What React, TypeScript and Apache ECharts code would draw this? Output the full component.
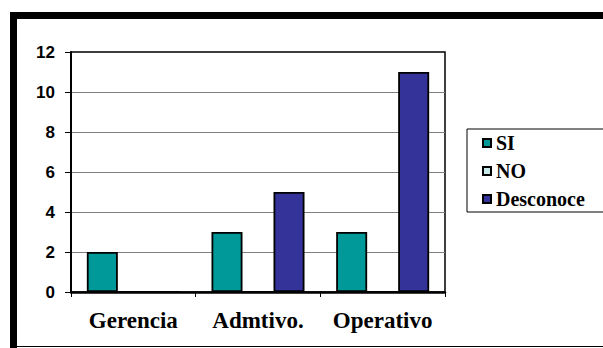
import React, { useEffect, useRef } from "react";
import * as echarts from "echarts";

const categories = ["Gerencia", "Admtivo.", "Operativo"];
const seriesNames = ["SI", "NO", "Desconoce"];
const siValues = [2, 3, 3];
const noValues = [0, 0, 0];
const desconoceValues = [0, 5, 11];
const seriesColors = ["#009999", "#C6E8E8", "#333399"];
const yMin = 0;
const yMax = 12;
const yInterval = 2;

const SERIF = "Liberation Serif";
const SANS = "Liberation Sans";

export default function App() {
  const ref = useRef<HTMLDivElement>(null);
  useEffect(() => {
    if (!ref.current) return;
    const chart = echarts.init(ref.current, null, { renderer: "svg" });
    const values = [siValues, noValues, desconoceValues];
    chart.setOption({
      animation: false,
      backgroundColor: "#ffffff",
      grid: {
        left: 71,
        top: 52,
        width: 374,
        height: 240,
        show: true,
        borderColor: "#000000",
        borderWidth: 1.5,
        backgroundColor: "transparent",
      },
      legend: {
        orient: "vertical",
        left: 467,
        top: 129,
        data: seriesNames,
        icon: "rect",
        itemWidth: 8,
        itemHeight: 8,
        itemGap: 8,
        padding: [4, 20, 3, 15],
        borderColor: "#000000",
        borderWidth: 1,
        textStyle: {
          fontFamily: SERIF,
          fontWeight: 700,
          fontSize: 20,
          color: "#000000",
          lineHeight: 20,
        },
      },
      xAxis: {
        type: "category",
        data: categories,
        axisLine: { lineStyle: { color: "#000000", width: 2.5 } },
        axisTick: { show: true, length: 5, lineStyle: { color: "#000000", width: 1 } },
        axisLabel: {
          interval: 0,
          margin: 17,
          fontFamily: SERIF,
          fontWeight: 700,
          fontSize: 23,
          color: "#000000",
        },
      },
      yAxis: {
        type: "value",
        min: yMin,
        max: yMax,
        interval: yInterval,
        axisLine: { show: true, lineStyle: { color: "#000000", width: 2 } },
        axisTick: { show: true, length: 6, lineStyle: { color: "#000000", width: 1 } },
        axisLabel: {
          margin: 16,
          fontFamily: SANS,
          fontWeight: 700,
          fontSize: 17,
          color: "#000000",
        },
        splitLine: {
          show: true,
          showMinLine: false,
          showMaxLine: false,
          lineStyle: { color: "#808080", width: 1.2 },
        },
      },
      series: seriesNames.map((name, i) => ({
        name,
        type: "bar",
        data: values[i],
        barWidth: 31,
        barGap: "0%",
        itemStyle: {
          color: seriesColors[i],
          borderColor: "#000000",
          borderWidth: 1.8,
        },
      })),
      graphic: [
        { type: "rect", shape: { x: 10, y: 12, width: 593, height: 7 }, style: { fill: "#000000" }, silent: true },
        { type: "rect", shape: { x: 10, y: 12, width: 7, height: 336 }, style: { fill: "#000000" }, silent: true },
        { type: "line", shape: { x1: 10, y1: 346.5, x2: 603, y2: 346.5 }, style: { stroke: "#000000", lineWidth: 1 }, silent: true },
      ],
    });
    return () => chart.dispose();
  }, []);
  return <div ref={ref} style={{ position: "fixed", left: 0, top: 0, width: 603, height: 348 }} />;
}
